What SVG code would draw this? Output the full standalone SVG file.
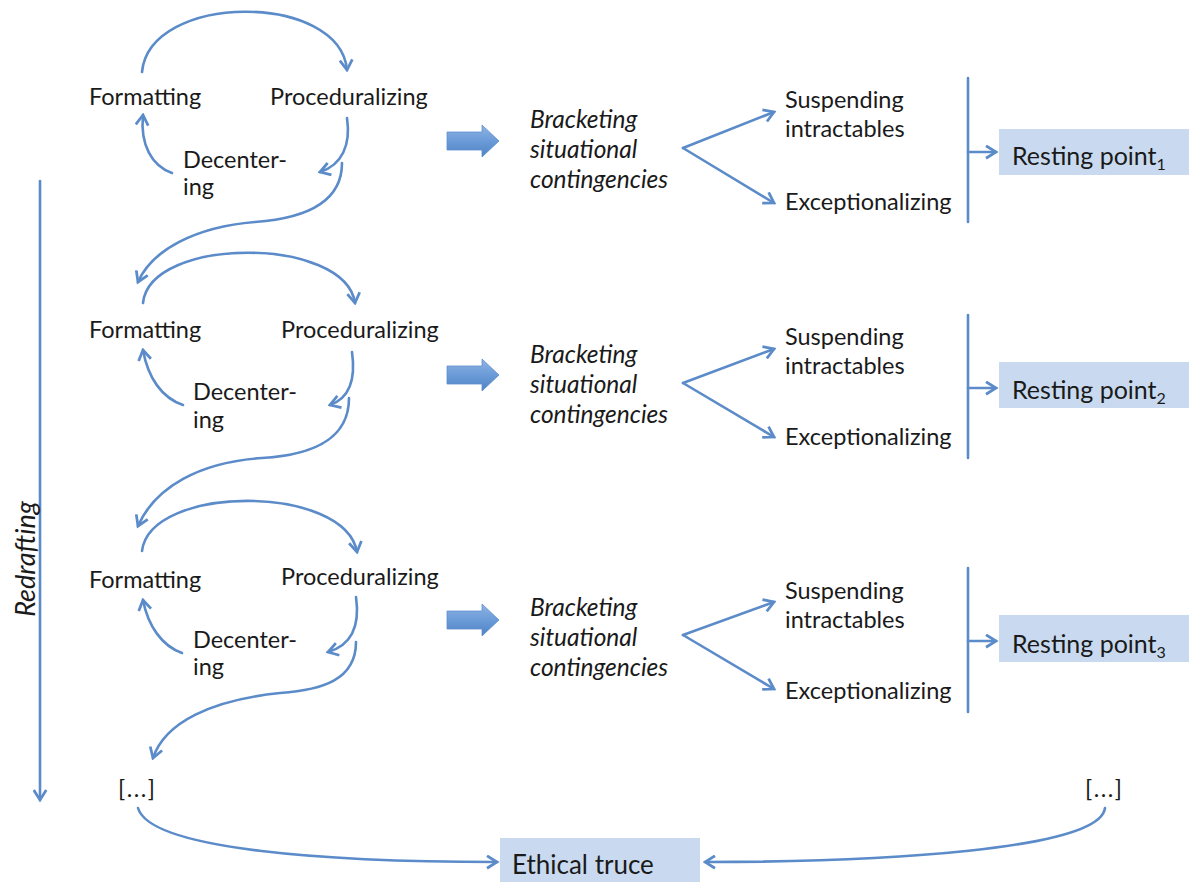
<svg xmlns="http://www.w3.org/2000/svg" width="1189" height="882" viewBox="0 0 1189 882">
<defs>
<style>
.t{font-family:Lato,"Open Sans","Liberation Sans",sans-serif;font-size:23.5px;fill:#1a1a1a}
.i{font-style:italic;font-size:24.5px}
.rp{font-size:25px}
.c{fill:none;stroke:#5b8bc9;stroke-width:2.6;stroke-linecap:round}
.ca{fill:none;stroke:#5b8bc9;stroke-width:2.6;stroke-linecap:round;marker-end:url(#ah)}
.box{fill:#c9daf0}
.fat{fill:url(#fg);stroke:#5e8fcf;stroke-width:0.8}
</style>
<linearGradient id="fg" x1="0" y1="0" x2="0" y2="1">
<stop offset="0" stop-color="#8fb4e3"/>
<stop offset="0.5" stop-color="#6b9bd8"/>
<stop offset="1" stop-color="#4f82c4"/>
</linearGradient>
<marker id="ah" viewBox="0 0 12 12" refX="10" refY="6" markerWidth="15" markerHeight="15" markerUnits="userSpaceOnUse" orient="auto">
<path d="M2,1 L10,6 L2,11" fill="none" stroke="#5b8bc9" stroke-width="2.2" stroke-linejoin="miter"/>
</marker>
</defs>
<rect width="1189" height="882" fill="#ffffff"/>

<g id="connectors">
<!-- block 1 -->
<path class="ca" d="M142,72 C150,-8 340,-8 347,70"/>
<path class="ca" d="M172,173 C152,166 140,145 143,115"/>
<path class="ca" d="M347,118 C351,145 342,165 320,172"/>
<path class="ca" d="M342,163 C342,200 310,218 255,222 C195,227 152,250 138,282"/>
<!-- block 2 -->
<path class="ca" d="M143,303 C150,236 345,236 355,303"/>
<path class="ca" d="M183,405 C162,398 148,378 143,350"/>
<path class="ca" d="M352,352 C356,380 350,398 330,405"/>
<path class="ca" d="M349,398 C349,440 312,455 262,458 C200,462 155,487 138,526"/>
<!-- block 3 -->
<path class="ca" d="M142,551 C150,484 345,484 357,552"/>
<path class="ca" d="M182,653 C162,646 148,626 143,600"/>
<path class="ca" d="M356,597 C360,625 352,645 328,652"/>
<path class="ca" d="M356,642 C356,680 322,690 280,693 C212,700 165,722 153,758"/>
<!-- forks -->
<path class="ca" d="M683,148 L774,112"/>
<path class="ca" d="M683,148 L774,203"/>
<path class="ca" d="M683,383 L774,349"/>
<path class="ca" d="M683,383 L774,437"/>
<path class="ca" d="M683,635 L774,602"/>
<path class="ca" d="M683,635 L774,689"/>
<!-- bars -->
<path class="c" d="M968,78 L968,222"/>
<path class="ca" d="M968,152 L996,152"/>
<path class="c" d="M968,315 L968,458"/>
<path class="ca" d="M968,388 L996,388"/>
<path class="c" d="M968,568 L968,712"/>
<path class="ca" d="M968,641 L996,641"/>
<!-- redrafting -->
<path class="ca" d="M40,181 L40,800"/>
<!-- bottom -->
<path class="ca" d="M138,808 C150,850 330,862 497,862"/>
<path class="ca" d="M1105,808 C1100,850 880,862 705,862"/>
<!-- fat arrows -->
<polygon class="fat" points="447,132 482,132 482,125 499,141 482,157 482,150 447,150"/>
<polygon class="fat" points="447,366 482,366 482,359 499,375 482,391 482,384 447,384"/>
<polygon class="fat" points="447,611 482,611 482,604 499,620 482,636 482,629 447,629"/>
</g>

<g id="formatting1"><text class="t" x="89" y="105">Formatting</text></g>
<g id="proceduralizing1"><text class="t" x="270" y="105">Proceduralizing</text></g>
<g id="decentering1"><text class="t" x="183" y="168">Decenter-</text><text class="t" x="183" y="195">ing</text></g>
<g id="bracketing1"><text class="t i" x="530" y="128">Bracketing</text><text class="t i" x="530" y="158">situational</text><text class="t i" x="530" y="188">contingencies</text></g>
<g id="suspending1"><text class="t" x="785" y="108">Suspending</text><text class="t" x="785" y="137">intractables</text></g>
<g id="exceptionalizing1"><text class="t" x="785" y="210">Exceptionalizing</text></g>
<g id="resting1"><rect class="box" x="999" y="129" width="190" height="46"/><text class="t rp" x="1012" y="165">Resting point<tspan font-size="16" dy="5">1</tspan></text></g>

<g id="formatting2"><text class="t" x="89" y="338">Formatting</text></g>
<g id="proceduralizing2"><text class="t" x="281" y="338">Proceduralizing</text></g>
<g id="decentering2"><text class="t" x="193" y="400">Decenter-</text><text class="t" x="193" y="428">ing</text></g>
<g id="bracketing2"><text class="t i" x="530" y="363">Bracketing</text><text class="t i" x="530" y="393">situational</text><text class="t i" x="530" y="423">contingencies</text></g>
<g id="suspending2"><text class="t" x="785" y="345">Suspending</text><text class="t" x="785" y="374">intractables</text></g>
<g id="exceptionalizing2"><text class="t" x="785" y="445">Exceptionalizing</text></g>
<g id="resting2"><rect class="box" x="999" y="362" width="190" height="46"/><text class="t rp" x="1012" y="399">Resting point<tspan font-size="16" dy="5">2</tspan></text></g>

<g id="formatting3"><text class="t" x="89" y="588">Formatting</text></g>
<g id="proceduralizing3"><text class="t" x="281" y="585">Proceduralizing</text></g>
<g id="decentering3"><text class="t" x="193" y="648">Decenter-</text><text class="t" x="193" y="675">ing</text></g>
<g id="bracketing3"><text class="t i" x="530" y="616">Bracketing</text><text class="t i" x="530" y="646">situational</text><text class="t i" x="530" y="676">contingencies</text></g>
<g id="suspending3"><text class="t" x="785" y="599">Suspending</text><text class="t" x="785" y="628">intractables</text></g>
<g id="exceptionalizing3"><text class="t" x="785" y="699">Exceptionalizing</text></g>
<g id="resting3"><rect class="box" x="999" y="615" width="190" height="47"/><text class="t rp" x="1012" y="653">Resting point<tspan font-size="16" dy="5">3</tspan></text></g>

<g id="redrafting"><text class="t i" transform="translate(35,559) rotate(-90)" text-anchor="middle" style="font-size:27px">Redrafting</text></g>
<g id="ellipsis-left"><text class="t" x="118" y="797" letter-spacing="1.5">[...]</text></g>
<g id="ellipsis-right"><text class="t" x="1085" y="797" letter-spacing="1.5">[...]</text></g>
<g id="ethical-truce"><rect class="box" x="500" y="838" width="200" height="44"/><text class="t" x="512" y="874" style="font-size:26px">Ethical truce</text></g>
</svg>
